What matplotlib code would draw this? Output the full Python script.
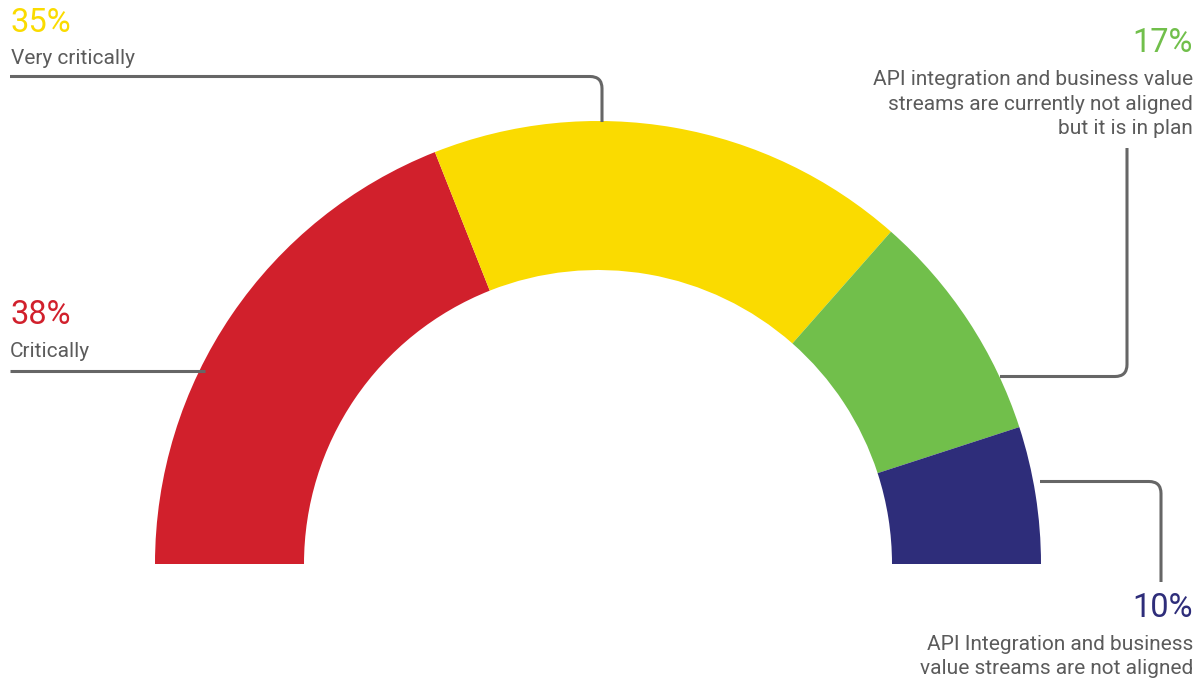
import matplotlib
matplotlib.use("Agg")
import matplotlib.pyplot as plt
from matplotlib.patches import Wedge
from matplotlib.path import Path
from matplotlib.patches import PathPatch

# Survey shares, drawn left to right along the half ring
categories = ["Critically", "Very critically",
              "API integration and business value\nstreams are currently not aligned\nbut it is in plan",
              "API Integration and business\nvalue streams are not aligned"]
shares = [38, 35, 17, 10]
pct_labels = ["38%", "35%", "17%", "10%"]
colors = ["#D1202C", "#FADB00", "#71BF4B", "#2E2D7A"]

W, H = 1201, 679
fig = plt.figure(figsize=(W / 100, H / 100), dpi=100)
ax = fig.add_axes([0, 0, 1, 1])
ax.set_xlim(0, W)
ax.set_ylim(H, 0)
ax.set_aspect("equal")
ax.axis("off")

cx, cy = 598, 564
r_out, r_in = 443, 294

# Half ring: angles measured in the flipped (y-down) frame, so sweep from 180 to 360
total = sum(shares)
start = 180.0
for val, col in zip(shares, colors):
    span = 180.0 * val / total
    ax.add_patch(Wedge((cx, cy), r_out, start, start + span,
                       width=r_out - r_in, facecolor=col, edgecolor="none"))
    start += span

line_col = "#666666"
text_col = "#5B5B5B"
lw = 2.2


def leader(points, radius=12):
    """Polyline with rounded corners."""
    verts = [points[0]]
    codes = [Path.MOVETO]
    for i in range(1, len(points) - 1):
        p0, p1, p2 = points[i - 1], points[i], points[i + 1]
        def toward(a, b, d):
            dx, dy = b[0] - a[0], b[1] - a[1]
            n = (dx ** 2 + dy ** 2) ** 0.5
            return (a[0] + dx / n * d, a[1] + dy / n * d)
        a = toward(p1, p0, radius)
        b = toward(p1, p2, radius)
        verts += [a, p1, b]
        codes += [Path.LINETO, Path.CURVE3, Path.CURVE3]
    verts.append(points[-1])
    codes.append(Path.LINETO)
    ax.add_patch(PathPatch(Path(verts, codes), facecolor="none",
                           edgecolor=line_col, lw=lw, capstyle="butt"))


leader([(10, 76.5), (602, 76.5), (602, 122)])
leader([(10, 370.5), (205, 370.5)])
leader([(1127, 148), (1127, 376.5), (1000, 376.5)])
leader([(1040, 481.5), (1161, 481.5), (1161, 582)])

pct_font = dict(family="Roboto", fontweight="normal", fontsize=23.5)
lab_font = dict(family="Roboto", fontsize=15, color=text_col)

# Left side labels
ax.text(10, 32, pct_labels[1], color=colors[1], va="baseline", ha="left", **pct_font)
ax.text(11, 64, categories[1], va="baseline", ha="left", **lab_font)
ax.text(10, 324, pct_labels[0], color=colors[0], va="baseline", ha="left", **pct_font)
ax.text(10, 357, categories[0], va="baseline", ha="left", **lab_font)

# Right side labels
ax.text(1193, 52, pct_labels[2], color=colors[2], va="baseline", ha="right", **pct_font)
for i, line in enumerate(categories[2].split("\n")):
    ax.text(1193, 85 + 24.5 * i, line, va="baseline", ha="right", **lab_font)
ax.text(1193, 617, pct_labels[3], color=colors[3], va="baseline", ha="right", **pct_font)
for i, line in enumerate(categories[3].split("\n")):
    ax.text(1193, 650 + 23.5 * i, line, va="baseline", ha="right", **lab_font)

fig.savefig("out.png", dpi=100, facecolor="white")
